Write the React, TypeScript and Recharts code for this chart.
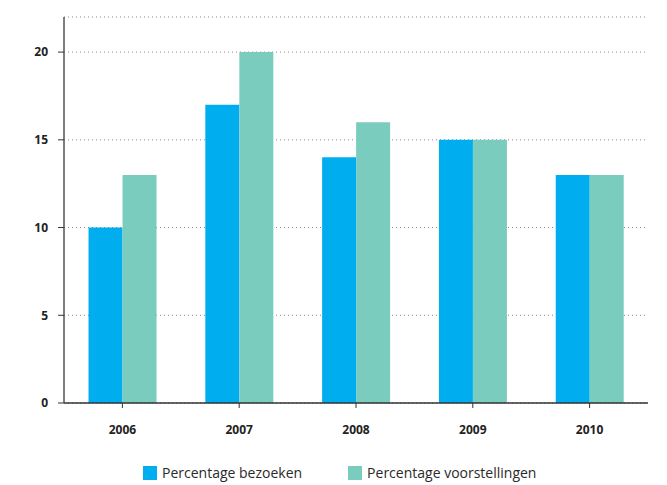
import React from "react";
import { BarChart, Bar, XAxis, YAxis, CartesianGrid } from "recharts";

const years = ["2006", "2007", "2008", "2009", "2010"];
const bezoeken = [10, 17, 14, 15, 13];
const voorstellingen = [13, 20, 16, 15, 13];
const yTicks = [0, 5, 10, 15, 20];

const data = years.map((y, i) => ({ year: y, bezoeken: bezoeken[i], voorstellingen: voorstellingen[i] }));

const BLUE = "#00AEEF";
const TEAL = "#7ACCBE";
const FONT = "'Open Sans', sans-serif";

export default function App() {
  return (
    <div style={{ position: "absolute", left: 0, top: 0, width: 667, height: 485, background: "#fff" }}>
      <BarChart
        width={667}
        height={485}
        data={data}
        margin={{ top: 17, right: 19, left: 0, bottom: 42 }}
        barGap={0}
        barCategoryGap="21%"
      >
        <CartesianGrid vertical={false} stroke="#888" strokeDasharray="1 3" />
        <XAxis
          dataKey="year"
          axisLine={{ stroke: "#333", strokeWidth: 1.5 }}
          tickLine={{ stroke: "#333" }}
          tickSize={5}
          tickMargin={17}
          tick={{ fill: "#222", fontFamily: FONT, fontSize: 12, fontWeight: 700 }}
          interval={0}
          height={40}
        />
        <YAxis
          domain={[0, 22]}
          ticks={yTicks}
          axisLine={{ stroke: "#555", strokeWidth: 1.5 }}
          tickLine={{ stroke: "#333" }}
          tickSize={6}
          tickMargin={10}
          tick={{ fill: "#222", fontFamily: FONT, fontSize: 12, fontWeight: 700 }}
          width={64}
        />
        <Bar dataKey="bezoeken" fill={BLUE} isAnimationActive={false} />
        <Bar dataKey="voorstellingen" fill={TEAL} isAnimationActive={false} />
      </BarChart>
      <div style={{ position: "absolute", top: 464, left: 143, display: "flex", fontFamily: FONT, fontSize: 14, color: "#2a2a2a", lineHeight: "18px" }}>
        <div style={{ display: "flex", alignItems: "center", marginRight: 46 }}>
          <span style={{ width: 14, height: 14, background: BLUE, display: "inline-block", marginRight: 5 }} />
          <span>Percentage bezoeken</span>
        </div>
        <div style={{ display: "flex", alignItems: "center" }}>
          <span style={{ width: 14, height: 14, background: TEAL, display: "inline-block", marginRight: 5 }} />
          <span>Percentage voorstellingen</span>
        </div>
      </div>
    </div>
  );
}
